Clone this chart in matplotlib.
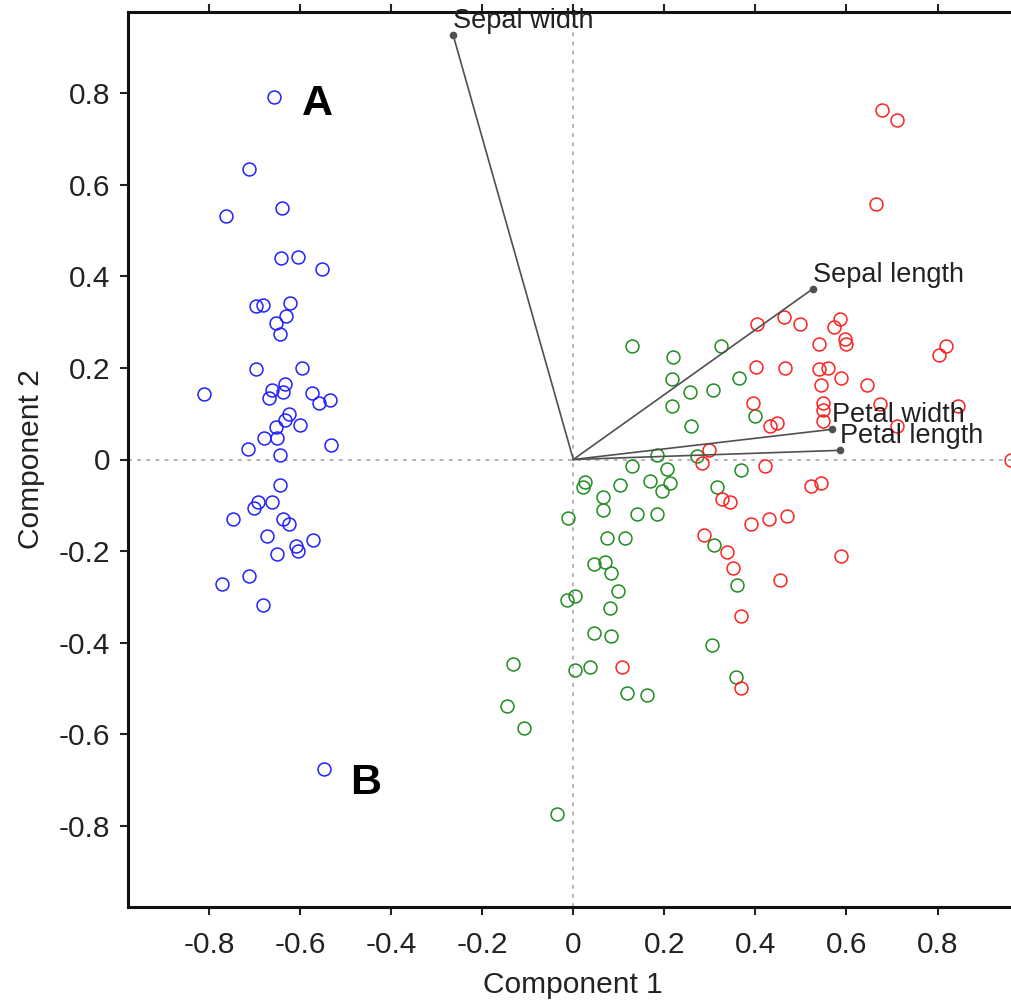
# =====================================================================
# PCA biplot of the iris data: scores (3 species) + loading vectors
# =====================================================================

import matplotlib
matplotlib.use("Agg")
import matplotlib.pyplot as plt

plt.rcParams["font.family"] = ["Liberation Sans", "DejaVu Sans"]

# --- Scores: setosa (blue) ---
setosa_x = [-0.657, -0.712, -0.763, -0.640, -0.642, -0.605, -0.552, -0.697,
            -0.682, -0.622, -0.631, -0.653, -0.644, -0.697, -0.596, -0.811,
            -0.662, -0.668, -0.633, -0.638, -0.574, -0.559, -0.534, -0.624,
            -0.633, -0.653, -0.600, -0.679, -0.651, -0.714, -0.532, -0.644,
            -0.644, -0.662, -0.692, -0.701, -0.747, -0.638, -0.624, -0.673,
            -0.572, -0.609, -0.605, -0.651, -0.712, -0.772, -0.682, -0.548]
setosa_y = [0.793, 0.635, 0.533, 0.550, 0.441, 0.443, 0.417, 0.336,
            0.338, 0.343, 0.314, 0.299, 0.275, 0.197, 0.199, 0.144,
            0.151, 0.135, 0.164, 0.148, 0.146, 0.124, 0.129, 0.100,
            0.087, 0.072, 0.076, 0.046, 0.046, 0.022, 0.031, 0.009,
            -0.055, -0.092, -0.092, -0.107, -0.131, -0.131, -0.142, -0.168,
            -0.177, -0.190, -0.201, -0.207, -0.255, -0.273, -0.319, -0.677]

# --- Scores: versicolor (green) ---
versicolor_x = [0.128, 0.218, 0.324, 0.216, 0.256, 0.306, 0.363, 0.216,
                0.398, 0.258, 0.183, 0.271, 0.128, 0.205, 0.368, 0.025,
                0.021, 0.102, 0.168, 0.212, 0.194, 0.315, 0.065, 0.065,
                -0.012, 0.139, 0.183, 0.074, 0.113, 0.308, 0.045, 0.069,
                0.082, 0.359, 0.098, -0.014, 0.003, 0.080, 0.045, 0.082,
                0.304, -0.133, 0.003, 0.036, 0.357, 0.117, 0.161, -0.146,
                -0.109, -0.036]
versicolor_y = [0.249, 0.225, 0.249, 0.177, 0.148, 0.151, 0.179, 0.118,
                0.096, 0.074, 0.009, 0.007, -0.015, -0.020, -0.024, -0.050,
                -0.061, -0.055, -0.046, -0.052, -0.068, -0.061, -0.081, -0.111,
                -0.127, -0.120, -0.120, -0.172, -0.172, -0.186, -0.229, -0.225,
                -0.247, -0.275, -0.288, -0.308, -0.299, -0.325, -0.380, -0.386,
                -0.406, -0.448, -0.459, -0.454, -0.476, -0.511, -0.515, -0.539,
                -0.587, -0.775]

# --- Scores: virginica (red) ---
virginica_x = [0.677, 0.712, 0.664, 0.403, 0.462, 0.497, 0.585, 0.572,
               0.596, 0.598, 0.539, 0.818, 0.804, 0.401, 0.464, 0.539,
               0.559, 0.589, 0.545, 0.646, 0.394, 0.548, 0.548, 0.548,
               0.673, 0.846, 0.431, 0.447, 0.710, 0.297, 0.282, 0.420,
               0.962, 0.523, 0.545, 0.326, 0.344, 0.390, 0.429, 0.469,
               0.286, 0.337, 0.350, 0.587, 0.455, 0.368, 0.368, 0.106]
virginica_y = [0.764, 0.742, 0.559, 0.297, 0.312, 0.297, 0.308, 0.290,
               0.264, 0.253, 0.253, 0.247, 0.229, 0.203, 0.199, 0.197,
               0.201, 0.179, 0.162, 0.162, 0.124, 0.124, 0.109, 0.085,
               0.122, 0.118, 0.074, 0.079, 0.074, 0.020, -0.007, -0.015,
               0.000, -0.057, -0.052, -0.087, -0.092, -0.142, -0.129, -0.124,
               -0.166, -0.203, -0.238, -0.210, -0.264, -0.341, -0.500, -0.454]

# --- Loadings (variable vectors) ---
var_names = ["Sepal width", "Sepal length", "Petal width", "Petal length"]
var_x = [-0.264, 0.526, 0.569, 0.585]
var_y = [0.928, 0.373, 0.066, 0.020]

ticks = [-0.8, -0.6, -0.4, -0.2, 0, 0.2, 0.4, 0.6, 0.8]
tick_labels = ["-0.8", "-0.6", "-0.4", "-0.2", "0", "0.2", "0.4", "0.6", "0.8"]


def main():
    fig = plt.figure(figsize=(10.12, 10), dpi=100)
    # right edge of the box falls just outside the picture (cropped original)
    ax = fig.add_axes([0.1265, 0.093, 0.880, 0.895])
    lim = 0.978
    ax.set_xlim(-lim, lim)
    ax.set_ylim(-lim, lim)

    # dotted cross through the origin
    ax.axhline(0, color="#a0a0a0", lw=1.1, ls=(0, (2.5, 3.5)), zorder=1)
    ax.axvline(0, color="#a0a0a0", lw=1.1, ls=(0, (2.5, 3.5)), zorder=1)

    marker_kw = dict(ls="none", marker="o", ms=9.3, mfc="none", mew=1.1, zorder=2)
    ax.plot(setosa_x, setosa_y, mec="#2020ff", **marker_kw)
    ax.plot(versicolor_x, versicolor_y, mec="#1e8c1e", **marker_kw)
    ax.plot(virginica_x, virginica_y, mec="#ff2020", **marker_kw)

    # loading vectors with a dot at the tip
    for name, vx, vy in zip(var_names, var_x, var_y):
        ax.plot([0, vx], [0, vy], color="#505050", lw=1.2, zorder=3)
        ax.plot(vx, vy, "o", color="#505050", ms=4.5, zorder=3)
        ax.annotate(name, (vx, vy), xytext=(0, 5), textcoords="offset points",
                    ha="left", va="baseline", fontsize=19.5, color="#222222",
                    zorder=4, annotation_clip=False)

    ax.text(-0.596, 0.753, "A", fontsize=31, fontweight="bold", ha="left",
            va="baseline")
    ax.text(-0.490, -0.731, "B", fontsize=31, fontweight="bold", ha="left",
            va="baseline")

    ax.set_xticks(ticks)
    ax.set_xticklabels(tick_labels)
    ax.set_yticks(ticks)
    ax.set_yticklabels(tick_labels)
    ax.tick_params(direction="out", length=6, width=1.5, labelsize=21.5,
                   top=True, pad=7, colors="#222222")
    ax.tick_params(axis="x", pad=11)
    for side in ["left", "bottom", "top", "right"]:
        ax.spines[side].set_linewidth(2.2)
        ax.spines[side].set_color("#111111")

    ax.set_xlabel("Component 1", fontsize=21.5, labelpad=9, color="#222222")
    ax.set_ylabel("Component 2", fontsize=21.5, labelpad=10, color="#222222")

    fig.savefig("out.png", dpi=100)


if __name__ == "__main__":
    main()
